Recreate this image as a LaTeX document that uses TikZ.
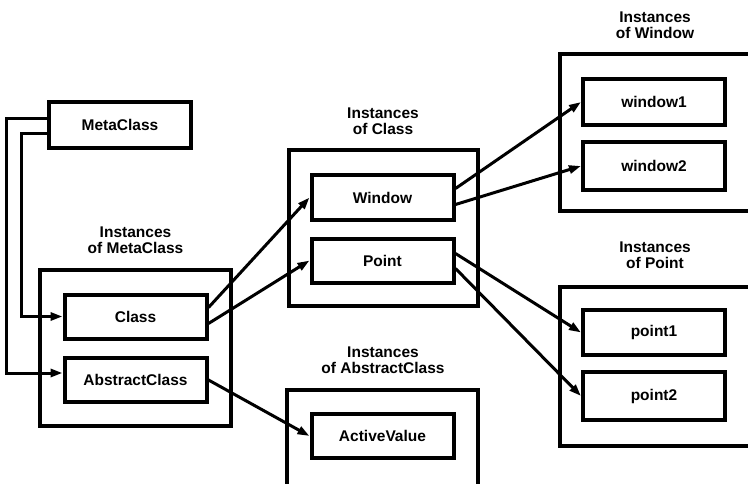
\documentclass[tikz,border=0pt]{standalone}
\usepackage{fontspec}
\setmainfont{Liberation Sans}
\usetikzlibrary{arrows.meta}
\begin{document}
\begin{tikzpicture}[x=1pt,y=-1pt,
  txt/.style={font=\bfseries\fontsize{15.5}{16}\selectfont},
  inbox/.style={txt,draw,line width=4pt,minimum width=142pt,minimum height=45pt,inner sep=0pt},
  outbox/.style={draw,line width=4pt,inner sep=0pt},
  title/.style={txt,align=center,inner sep=0pt},
  conn/.style={line width=3pt,-{Triangle[length=12pt,width=8pt]}}]
\clip (0,0) rectangle (748,483);
\fill[white] (0,0) rectangle (748,483);
% outer containers
\node[outbox,minimum width=191pt,minimum height=156pt] (mcout) at (135.5,348) {};
\node[outbox,minimum width=189pt,minimum height=156pt] (clout) at (383.5,228) {};
\node[outbox,minimum width=191pt,minimum height=120pt] (acout) at (382.5,450) {};
\node[outbox,minimum width=192pt,minimum height=157pt] (wout) at (656,132.5) {};
\node[outbox,minimum width=192pt,minimum height=159pt] (pout) at (656,366.5) {};
% titles
\node[title] (mct) at (135.5,240) {Instances\\of MetaClass};
\node[title] (clt) at (383,121) {Instances\\of Class};
\node[title] (act) at (383,360) {Instances\\of AbstractClass};
\node[title] (wt) at (655,25.5) {Instances\\of Window};
\node[title] (pt) at (655,255.5) {Instances\\of Point};
% inner boxes
\node[inbox,minimum height=46pt] (MetaClass) at (120,125) {MetaClass};
\node[inbox,minimum height=44pt] (Class) at (135.5,316.5) {Class};
\node[inbox,minimum height=44pt] (AbstractClass) at (135.5,380) {AbstractClass};
\node[inbox] (Window) at (382.5,197.5) {Window};
\node[inbox,minimum height=44pt] (Point) at (382.5,260.5) {Point};
\node[inbox,minimum height=44pt] (ActiveValue) at (382.5,436) {ActiveValue};
\node[inbox,minimum height=46pt] (window1) at (654,102) {window1};
\node[inbox,minimum height=48pt] (window2) at (654,166) {window2};
\node[inbox] (point1) at (654,332.5) {point1};
\node[inbox,minimum height=48pt] (point2) at (654,396) {point2};
% connectors
\draw[conn] ([yshift=7pt]MetaClass.west) -- ++(-41,0) |- ([yshift=7pt]AbstractClass.west);
\draw[conn] ([yshift=-8pt]MetaClass.west) -- ++(-26,0) |- (Class.west);
\draw[conn] ([yshift=9pt]Class.east) -- (Window.west);
\draw[conn] ([yshift=-7pt]Class.east) -- (Point.west);
\draw[conn] (AbstractClass.east) -- (ActiveValue.west);
\draw[conn] ([yshift=9pt]Window.east) -- (window1.west);
\draw[conn] ([yshift=-7pt]Window.east) -- (window2.west);
\draw[conn] ([yshift=7pt]Point.east) -- (point1.west);
\draw[conn] ([yshift=-8pt]Point.east) -- (point2.west);
\end{tikzpicture}
\end{document}
